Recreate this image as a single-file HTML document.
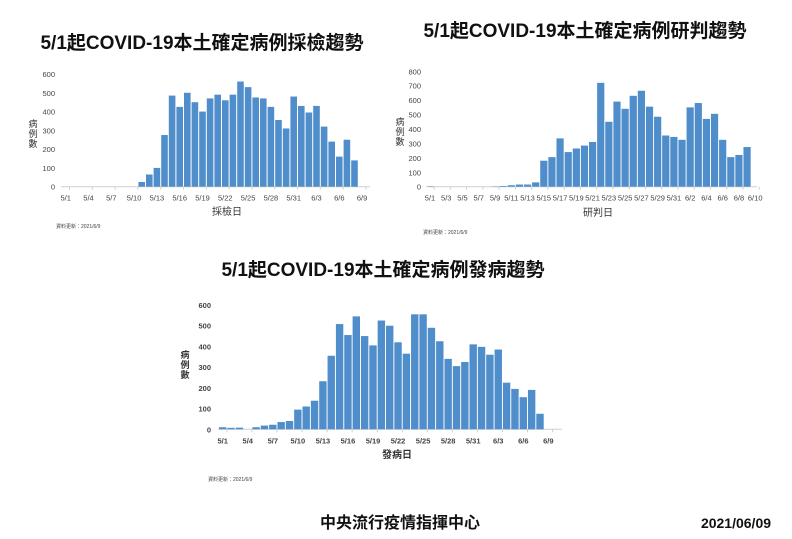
<!DOCTYPE html>
<html><head><meta charset="utf-8">
<style>
body{margin:0;background:#fff;width:792px;height:539px;overflow:hidden}
svg{position:absolute;left:0;top:0;font-family:"Liberation Sans","Noto Sans CJK TC",sans-serif}
</style></head><body>
<svg id="s" width="792" height="539" xmlns="http://www.w3.org/2000/svg">
<text x="202" y="49" font-size="19" font-weight="bold" text-anchor="middle" fill="#111">5/1起COVID-19本土確定病例採檢趨勢</text>
<text x="585" y="37" font-size="19" font-weight="bold" text-anchor="middle" fill="#111">5/1起COVID-19本土確定病例研判趨勢</text>
<text x="383" y="276" font-size="19" font-weight="bold" text-anchor="middle" fill="#111">5/1起COVID-19本土確定病例發病趨勢</text>
<text x="400" y="528" font-size="16" font-weight="bold" text-anchor="middle" fill="#111">中央流行疫情指揮中心</text>
<text x="736" y="528" font-size="14" font-weight="bold" text-anchor="middle" fill="#111">2021/06/09</text>
<g id="g"></g>
</svg>
<script>
var g=document.getElementById('g'),h='';
function chart(o){
  var k=o.py/o.step;
  // axis
  h+='<line x1="'+o.ax0+'" x2="'+o.ax1+'" y1="'+o.y0+'" y2="'+o.y0+'" stroke="#d0d0d0" stroke-width="1"/>';
  for(var v=0;v<=o.max;v+=o.tick){var y=o.y0-v*k;
    h+='<text x="'+o.lx+'" y="'+(y+3)+'" font-size="'+o.fs+'" text-anchor="end" fill="#444" font-weight="'+o.fw+'">'+v+'</text>';}
  o.d.forEach(function(v,i){var cx=o.x0+(i+o.off)*o.dx;
    h+='<rect x="'+(cx-o.bw/2)+'" y="'+(o.y0-v*k)+'" width="'+o.bw+'" height="'+(v*k)+'" fill="#4f8dcb"/>';});
  o.labels.forEach(function(l){var cx=o.x0+l[0]*o.dx;
    h+='<line x1="'+(cx+o.dx/2*o.tk)+'" x2="'+(cx+o.dx/2*o.tk)+'" y1="'+o.y0+'" y2="'+(o.y0+3)+'" stroke="#d0d0d0"/>';
    h+='<text x="'+cx+'" y="'+(o.y0+14)+'" font-size="'+o.fs+'" text-anchor="middle" fill="#444" font-weight="'+o.fw+'">'+l[1]+'</text>';});
  h+='<text x="'+o.tx+'" y="'+o.ty+'" font-size="10" text-anchor="middle" fill="#333" font-weight="'+o.fw+'">'+o.title+'</text>';
  ['病','例','數'].forEach(function(c,i){h+='<text x="'+o.yx+'" y="'+(o.yy+i*10)+'" font-size="9" text-anchor="middle" fill="#333" font-weight="'+o.fw+'">'+c+'</text>';});
  h+='<text x="'+o.nx+'" y="'+o.ny+'" font-size="5" fill="#444">資料更新：2021/6/9</text>';
}
function lab(start,every,n,mon){var a=[];for(var i=0;i<n;i+=every){var d=start+i;a.push([i,d<=31?'5/'+d:'6/'+(d-31)]);}return a;}
var d1=[0,0,0,0,0,0,0,0,0,0,25,65,100,275,485,425,500,450,400,470,490,460,490,560,530,475,470,425,355,310,480,430,395,430,320,240,160,250,140];
chart({d:d1,x0:65.7,dx:7.6,off:0,bw:6.6,y0:186.7,py:112.7,step:600,max:600,tick:100,lx:55,fs:7.5,fw:'normal',ax0:61,ax1:370,tk:1,
 labels:lab(1,3,40),tx:227,ty:215,title:'採檢日',yx:33,yy:127,nx:56,ny:228});
var d2=[3,0,0,0,0,0,0,0,2,5,10,15,15,30,180,205,335,240,265,285,310,720,450,590,540,630,665,555,485,355,345,325,550,580,470,505,325,205,220,275];
chart({d:d2,x0:430,dx:8.13,off:0,bw:7.2,y0:186.7,py:115.4,step:800,max:800,tick:100,lx:421,fs:7.5,fw:'normal',ax0:428,ax1:757,tk:1,
 labels:lab(1,2,41),tx:598,ty:216,title:'研判日',yx:400,yy:125,nx:423,ny:234});
var d3=[10,7,8,0,10,18,22,35,40,95,110,138,232,355,508,455,545,450,405,525,500,420,365,555,555,490,425,340,305,325,410,398,360,385,225,195,155,190,75];
chart({d:d3,x0:222.7,dx:8.35,off:0,bw:7.4,y0:429.3,py:124.3,step:600,max:600,tick:100,lx:211,fs:7.5,fw:'bold',ax0:218,ax1:562,tk:1,
 labels:lab(1,3,40),tx:397,ty:458,title:'發病日',yx:185,yy:358,nx:208,ny:481});
g.innerHTML=h;
</script>
</body></html>
